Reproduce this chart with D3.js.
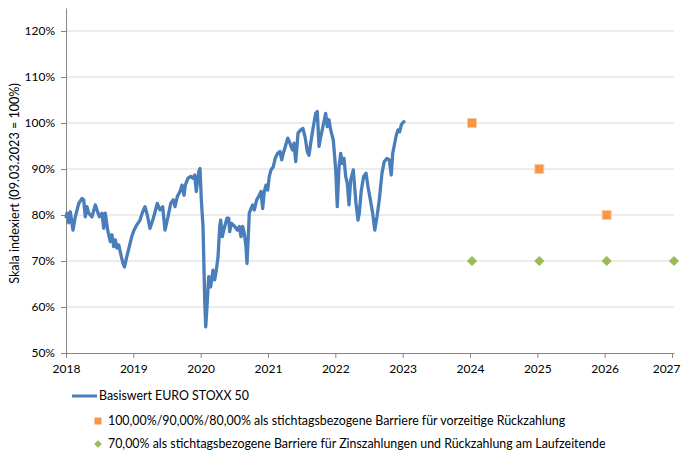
<!doctype html>
<html lang="de">
  <head>
    <meta charset="utf-8">
    <title>Basiswert EURO STOXX 50</title>
    <style>
      body { margin: 0; background: #fff; }
      svg text { font-family: Lato, "Open Sans", sans-serif; fill: #000; }
    </style>
  </head>
  <body>
    <script src="https://cdn.jsdelivr.net/npm/d3@7"></script>
    <script>
      // Kursverlauf (Jahr als Dezimalzahl, Wert in % von 09.03.2023)
      var lineYears = [
        2018.000, 2018.015, 2018.040, 2018.064, 2018.104, 2018.138, 2018.189, 2018.238, 2018.263, 2018.287,
        2018.312, 2018.337, 2018.386, 2018.435, 2018.460, 2018.495, 2018.535, 2018.560, 2018.584, 2018.619,
        2018.658, 2018.683, 2018.708, 2018.732, 2018.757, 2018.783, 2018.821, 2018.847, 2018.869, 2018.902,
        2018.940, 2018.976, 2019.010, 2019.050, 2019.099, 2019.139, 2019.173, 2019.207, 2019.248, 2019.297,
        2019.356, 2019.396, 2019.436, 2019.470, 2019.515, 2019.555, 2019.594, 2019.619, 2019.653, 2019.693,
        2019.723, 2019.753, 2019.772, 2019.812, 2019.852, 2019.886, 2019.911, 2019.935, 2019.971, 2019.990,
        2020.010, 2020.035, 2020.050, 2020.060, 2020.075, 2020.094, 2020.119, 2020.149, 2020.183, 2020.209,
        2020.232, 2020.258, 2020.283, 2020.298, 2020.321, 2020.357, 2020.391, 2020.416, 2020.431, 2020.455,
        2020.506, 2020.544, 2020.574, 2020.599, 2020.624, 2020.648, 2020.673, 2020.688, 2020.714, 2020.722,
        2020.748, 2020.773, 2020.797, 2020.832, 2020.871, 2020.896, 2020.921, 2020.945, 2020.970, 2020.996,
        2021.019, 2021.045, 2021.079, 2021.109, 2021.144, 2021.178, 2021.204, 2021.227, 2021.257, 2021.293,
        2021.316, 2021.342, 2021.367, 2021.386, 2021.412, 2021.446, 2021.486, 2021.520, 2021.550, 2021.584,
        2021.609, 2021.634, 2021.673, 2021.709, 2021.732, 2021.758, 2021.783, 2021.821, 2021.857, 2021.881,
        2021.906, 2021.931, 2021.970, 2022.006, 2022.029, 2022.055, 2022.080, 2022.104, 2022.129, 2022.154,
        2022.178, 2022.203, 2022.228, 2022.267, 2022.307, 2022.337, 2022.356, 2022.386, 2022.421, 2022.456,
        2022.485, 2022.520, 2022.555, 2022.585, 2022.619, 2022.653, 2022.693, 2022.727, 2022.768, 2022.802,
        2022.831, 2022.852, 2022.882, 2022.906, 2022.931, 2022.956, 2022.980, 2023.016, 2023.030
      ];
      var lineValues = [
        79.3, 80.4, 78.3, 80.7, 76.7, 79.6, 82.5, 83.6, 83.3, 79.6,
        81.8, 80.4, 79.6, 82.2, 81.1, 79.6, 80.4, 77.1, 80.4, 76.7,
        74.2, 75.7, 73.1, 74.6, 72.8, 73.5, 71.0, 69.5, 68.7, 70.9,
        73.1, 75.3, 76.7, 77.8, 78.9, 80.7, 81.8, 80.0, 77.1, 79.3,
        82.5, 81.1, 81.8, 76.7, 79.6, 82.5, 83.3, 81.8, 84.0, 85.1,
        86.5, 84.3, 86.5, 88.0, 88.4, 88.0, 88.7, 85.1, 89.4, 90.1,
        83.3, 77.5, 68.0, 61.5, 55.7, 60.1, 66.6, 64.4, 68.0, 65.9,
        68.0, 70.9, 77.5, 78.9, 75.3, 77.5, 79.3, 79.3, 76.4, 78.2,
        77.5, 76.7, 77.5, 75.3, 77.5, 76.0, 73.1, 69.5, 77.5, 80.4,
        81.4, 82.2, 81.1, 83.3, 84.3, 85.1, 81.4, 85.1, 86.5, 85.4,
        88.4, 89.8, 90.5, 92.4, 93.4, 93.8, 92.0, 93.4, 94.9, 96.7,
        96.0, 94.9, 94.1, 95.6, 91.6, 97.8, 98.5, 98.8, 97.0, 93.8,
        93.0, 95.6, 99.2, 102.1, 102.5, 94.9, 97.0, 99.6, 102.1, 99.2,
        100.7, 98.5, 96.3, 89.8, 81.8, 90.5, 93.4, 91.2, 92.3, 88.4,
        86.9, 82.2, 87.6, 89.8, 82.5, 78.9, 80.4, 85.4, 88.4, 89.1,
        86.2, 83.3, 80.4, 76.7, 79.6, 83.3, 89.1, 91.6, 92.3, 92.0,
        88.7, 93.4, 95.6, 97.4, 98.5, 98.1, 99.6, 100.3, 100.0
      ];

      // Barrieren
      var earlyYears  = [2024.03, 2025.03, 2026.03];
      var earlyValues = [100, 90, 80];
      var couponYears  = [2024.03, 2025.03, 2026.03, 2027.03];
      var couponValues = [70, 70, 70, 70];

      var yearTicks = [2018, 2019, 2020, 2021, 2022, 2023, 2024, 2025, 2026, 2027];
      var pctTicks  = [50, 60, 70, 80, 90, 100, 110, 120];

      var legendLabels = [
        "Basiswert EURO STOXX 50",
        "100,00%/90,00%/80,00% als stichtagsbezogene Barriere für vorzeitige Rückzahlung",
        "70,00% als stichtagsbezogene Barriere für Zinszahlungen und Rückzahlung am Laufzeitende"
      ];

      var blue = "#4a7ebb", orange = "#f79646", green = "#9bbb59";

      var margin = {top: 8, right: 7, bottom: 97, left: 66},
          width = 681 - margin.left - margin.right,
          height = 450 - margin.top - margin.bottom;

      var svg = d3.select("body")
        .append("svg")
        .attr("width", 681)
        .attr("height", 450);

      var chart = svg.append("g")
        .attr("transform", "translate(" + margin.left + "," + margin.top + ")");

      var x = d3.scaleLinear()
        .domain([2018, 2027.03])
        .range([0, width]);

      var y = d3.scaleLinear()
        .domain([50, 125])
        .range([height, 0]);

      // gridlines
      chart.selectAll(".grid")
        .data(pctTicks.filter(function(d){ return d > 50; }))
        .enter()
        .append("line")
        .attr("x1", 0)
        .attr("x2", width)
        .attr("y1", function(d){ return y(d); })
        .attr("y2", function(d){ return y(d); })
        .attr("stroke", "#d9d9d9")
        .attr("stroke-width", 1);

      var yAxis = chart.append("g")
        .call(d3.axisLeft(y).tickValues(pctTicks).tickSize(5).tickSizeOuter(0).tickPadding(6)
          .tickFormat(function(d){ return d + "%"; }));

      var xAxis = chart.append("g")
        .attr("transform", "translate(0," + height + ")")
        .call(d3.axisBottom(x).tickValues(yearTicks).tickSize(5).tickSizeOuter(0).tickPadding(6)
          .tickFormat(d3.format("d")));

      [yAxis, xAxis].forEach(function(a){
        a.selectAll("path, line").attr("stroke", "#868686");
        a.selectAll("text").style("font-size", "12px").style("fill", "#000");
      });

      // last year label sits at the right edge, keep it inside the picture
      xAxis.selectAll(".tick text")
        .filter(function(d){ return d === 2027; })
        .attr("text-anchor", "end")
        .attr("dx", (681 - margin.left - 1 - x(2027)) + "px");

      chart.append("text")
        .attr("transform", "translate(" + (15 - margin.left) + "," + (height / 2 + 3) + ") rotate(-90)")
        .attr("text-anchor", "middle")
        .attr("dy", "0.35em")
        .style("font-size", "12.6px")
        .text("Skala indexiert (09.03.2023 = 100%)");

      var line = d3.line()
        .x(function(d){ return x(d[0]); })
        .y(function(d){ return y(d[1]); });

      chart.append("path")
        .datum(d3.zip(lineYears, lineValues))
        .attr("d", line)
        .attr("fill", "none")
        .attr("stroke", blue)
        .attr("stroke-width", 3.3)
        .attr("stroke-linejoin", "round");

      var square = d3.symbol().type(d3.symbolSquare).size(81);
      var diamond = d3.symbol().type(d3.symbolSquare).size(52); // rotated below

      chart.selectAll(".early")
        .data(d3.zip(earlyYears, earlyValues))
        .enter()
        .append("path")
        .attr("d", square)
        .attr("transform", function(d){ return "translate(" + x(d[0]) + "," + y(d[1]) + ")"; })
        .attr("fill", orange)
        .attr("stroke", "#fbc9a0")
        .attr("stroke-width", 1);

      chart.selectAll(".coupon")
        .data(d3.zip(couponYears, couponValues))
        .enter()
        .append("path")
        .attr("d", diamond)
        .attr("transform", function(d){ return "translate(" + x(d[0]) + "," + y(d[1]) + ") rotate(45)"; })
        .attr("fill", green);

      // legend
      var legend = svg.append("g");
      var rows = [396, 421, 444];

      legend.append("line")
        .attr("x1", 72).attr("x2", 97)
        .attr("y1", rows[0]).attr("y2", rows[0])
        .attr("stroke", blue)
        .attr("stroke-width", 3);

      legend.append("path")
        .attr("d", d3.symbol().type(d3.symbolSquare).size(49))
        .attr("transform", "translate(98," + rows[1] + ")")
        .attr("fill", orange);

      legend.append("path")
        .attr("d", d3.symbol().type(d3.symbolSquare).size(30))
        .attr("transform", "translate(98," + rows[2] + ") rotate(45)")
        .attr("fill", green);

      legend.selectAll(".lab")
        .data(legendLabels)
        .enter()
        .append("text")
        .attr("x", function(d, i){ return i === 0 ? 99 : 108; })
        .attr("y", function(d, i){ return rows[i]; })
        .attr("dy", "0.35em")
        .style("font-size", "12.4px")
        .text(function(d){ return d; });
    </script>
  </body>
</html>
